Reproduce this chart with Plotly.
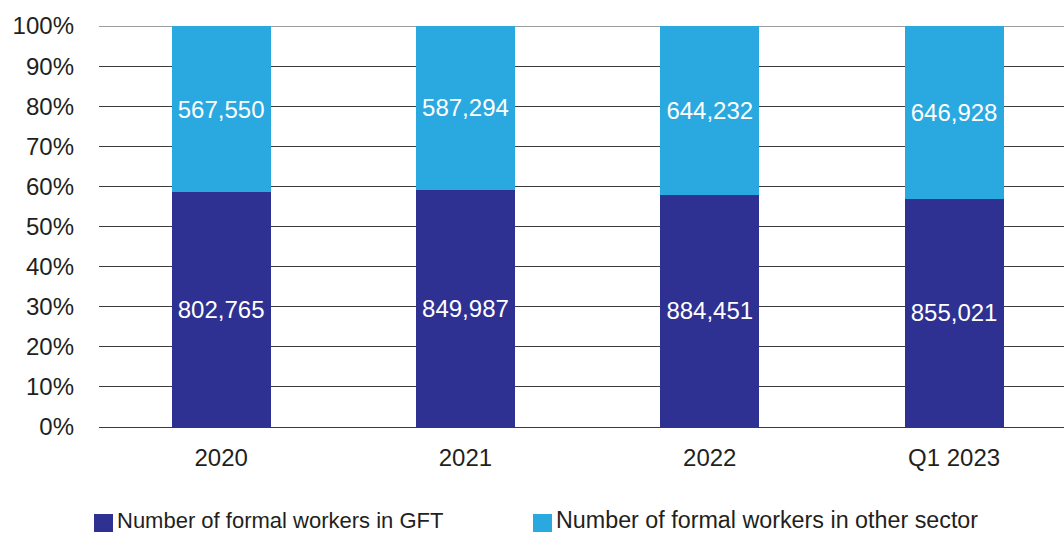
import plotly.graph_objects as go

# Formal workers by sector, shown as share of the yearly total
periods = ["2020", "2021", "2022", "Q1 2023"]
gft_workers = [802765, 849987, 884451, 855021]
other_workers = [567550, 587294, 644232, 646928]

series_names = ["Number of formal workers in GFT",
                "Number of formal workers in other sector"]
dark_blue = "#2E3192"
light_blue = "#29A9E0"
text_color = "#231F20"
grid_color = "#3c3c3c"
font_family = "Liberation Sans, Arial, Helvetica, sans-serif"

W, H = 1064, 533
M_L, M_R, M_T, M_B = 99, 0, 26, 106
plot_w = W - M_L - M_R
plot_h = H - M_T - M_B

fig = go.Figure()
for name, vals, col in [(series_names[0], gft_workers, dark_blue),
                        (series_names[1], other_workers, light_blue)]:
    fig.add_trace(go.Bar(
        x=periods, y=vals, name=name,
        marker=dict(color=col, line=dict(width=0)),
        text=[f"{v:,}" for v in vals],
        textposition="inside", insidetextanchor="middle",
        textfont=dict(color="white", size=24, family=font_family),
        width=0.405, showlegend=False,
        hoverinfo="skip",
    ))

fig.update_layout(
    barmode="stack", barnorm="percent",
    width=W, height=H,
    margin=dict(l=M_L, r=M_R, t=M_T, b=M_B),
    paper_bgcolor="white", plot_bgcolor="white",
    font=dict(family=font_family, size=24, color=text_color),
    uniformtext=dict(mode="show", minsize=10),
)
fig.update_xaxes(
    range=[-0.5, 3.45], showgrid=False, showline=False, zeroline=False,
    ticks="", ticklabelstandoff=14,
    tickfont=dict(size=24, color=text_color),
)
fig.update_yaxes(
    range=[0, 100], dtick=10, ticksuffix="%",
    showgrid=True, gridcolor=grid_color, gridwidth=1.2,
    zeroline=True, zerolinecolor=grid_color, zerolinewidth=1.2,
    showline=False, ticks="", ticklabelstandoff=24,
    tickfont=dict(size=24, color=text_color),
)

# top gridline at 100%, kept behind the bars
fig.add_shape(type="line", xref="paper", yref="y", x0=0, x1=1, y0=100, y1=100,
              line=dict(color=grid_color, width=1.2), layer="below")


def px_x(px):
    return (px - M_L) / plot_w


def px_y(py):
    return (H - M_B - py) / plot_h


# Legend drawn as coloured squares with labels beneath the plot
legend_left = [94, 533]
legend_size = [22, 23.3]
for left, size, name, col in zip(legend_left, legend_size, series_names,
                                 [dark_blue, light_blue]):
    fig.add_shape(type="rect", xref="paper", yref="paper",
                  x0=px_x(left), x1=px_x(left + 19),
                  y0=px_y(532), y1=px_y(514),
                  fillcolor=col, line=dict(width=0))
    fig.add_annotation(text=name, xref="paper", yref="paper",
                       x=px_x(left + 22), y=px_y(520),
                       xanchor="left", yanchor="middle", showarrow=False,
                       borderpad=0,
                       font=dict(size=size, color=text_color, family=font_family))

fig.write_html("out.html")
